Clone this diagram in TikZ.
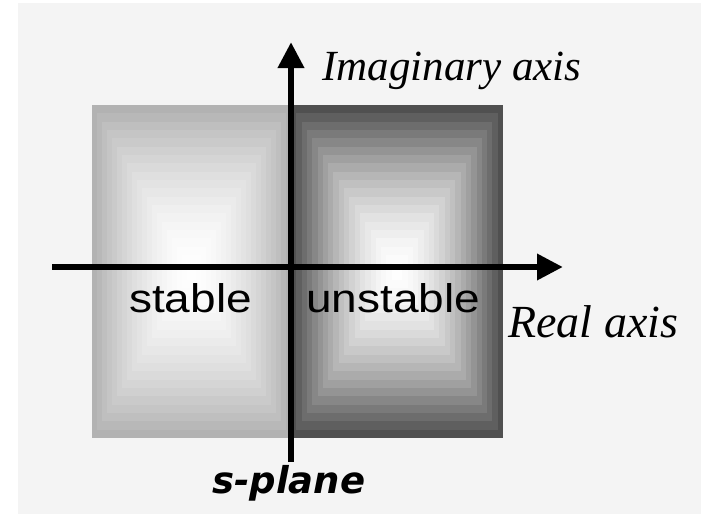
\documentclass[tikz,border=0pt]{standalone}
\usepackage{fontspec}
\setmainfont{Liberation Serif}
\newfontfamily\widesans[FakeStretch=1.15]{Liberation Sans}
\newfontfamily\planefont{DejaVu Sans}
\usetikzlibrary{arrows.meta,calc}
\definecolor{pagegray}{HTML}{F4F4F4}
\definecolor{stableedge}{HTML}{B2B2B2}
\definecolor{unstableedge}{HTML}{505050}

\begin{document}
\begin{tikzpicture}[x=1pt,y=-1pt,
  axis/.style={line width=6.5pt,-{Triangle[length=26pt,width=25pt]}},
  lbl/.style={anchor=base west,inner sep=0}]
\useasboundingbox (0,0) rectangle (701,514);
\fill[pagegray] (18,3) rectangle (701,514);
% left half: light frame fading to white in the middle
\foreach \i in {0,...,20}{
  \pgfmathsetmacro\s{1-\i/20}
  \pgfmathsetmacro\p{100*(1-\s^1.7)}
  \fill[white!\p!stableedge] (191.5-99.5*\s,271.5-166.5*\s) rectangle (191.5+99.5*\s,271.5+166.5*\s);
}
% right half: dark frame
\foreach \i in {0,...,20}{
  \pgfmathsetmacro\s{1-\i/20}
  \pgfmathsetmacro\p{100*(1-\s^1.7)}
  \fill[white!\p!unstableedge] (397-106*\s,271.5-166.5*\s) rectangle (397+106*\s,271.5+166.5*\s);
}
\coordinate (reW) at (52,267);
\coordinate (reE) at (563,267);
\coordinate (imS) at (291,462);
\coordinate (imN) at (291,42);
\draw[axis] (reW) -- (reE);
\draw[axis] (imS) -- (imN);
\node[lbl,font=\fontsize{43}{50}\selectfont\itshape] (imlbl) at (322,80) {Imaginary axis};
\node[lbl,font=\fontsize{46}{52}\selectfont\itshape] (relbl) at (508,337) {Real axis};
\node[lbl,font=\widesans\fontsize{40}{44}\selectfont] (stab) at (129,312) {stable};
\node[lbl,font=\widesans\fontsize{40}{44}\selectfont] (unstab) at (306,312) {unstable};
\node[lbl,font=\planefont\bfseries\itshape\fontsize{37}{40}\selectfont] (plane) at (212,493) {s-plane};
\end{tikzpicture}
\end{document}
